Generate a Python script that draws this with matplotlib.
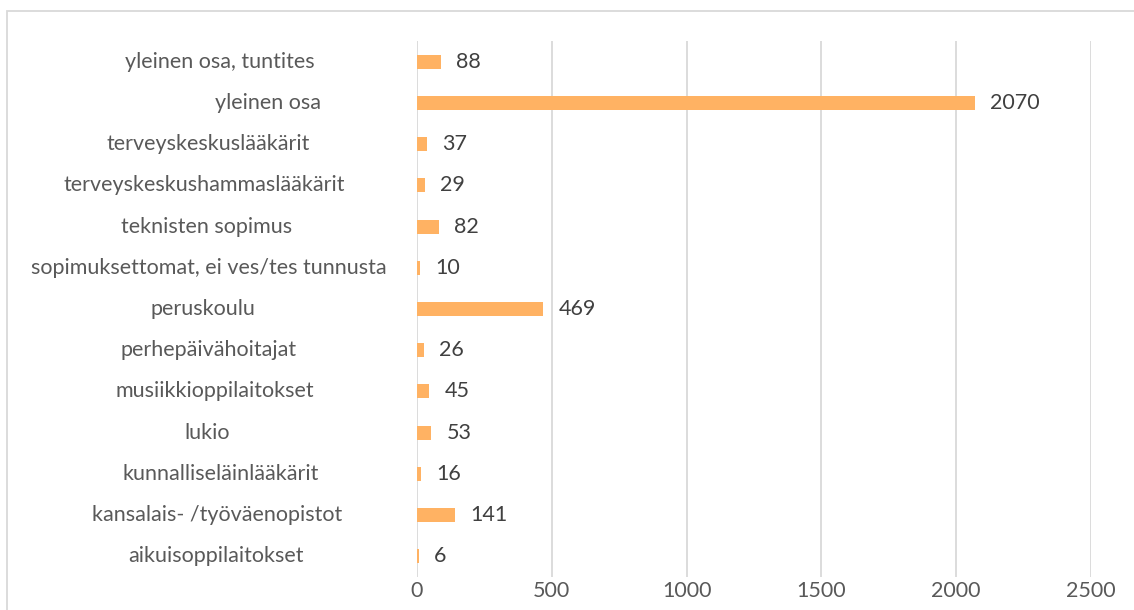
import matplotlib.pyplot as plt
import matplotlib.transforms as mtransforms
from matplotlib.patches import Rectangle

categories = [
    "yleinen osa, tuntites",
    "yleinen osa",
    "terveyskeskuslääkärit",
    "terveyskeskushammaslääkärit",
    "teknisten sopimus",
    "sopimuksettomat, ei ves/tes tunnusta",
    "peruskoulu",
    "perhepäivähoitajat",
    "musiikkioppilaitokset",
    "lukio",
    "kunnalliseläinlääkärit",
    "kansalais- /työväenopistot",
    "aikuisoppilaitokset",
]
values = [88, 2070, 37, 29, 82, 10, 469, 26, 45, 53, 16, 141, 6]
x_ticks = [0, 500, 1000, 1500, 2000, 2500]

# label centre x in pixels (Excel centres each label slightly differently)
label_centers = [220, 268, 208, 204, 207, 209, 203, 209, 215, 207, 221, 217, 216]

W, H = 1134, 610
BAR_COLOR = "#FFB263"
TEXT_COLOR = "#595959"
GRID_COLOR = "#D9D9D9"
FS = 15.5

plt.rcParams["font.family"] = ["Lato", "DejaVu Sans"]

fig = plt.figure(figsize=(W / 100, H / 100), dpi=100)
ax = fig.add_axes([417 / W, 33 / H, 674 / W, 536 / H])

y = list(range(len(categories)))
ax.barh(y, values, height=0.34, color=BAR_COLOR, zorder=3)

ax.set_xlim(0, 2500)
ax.set_ylim(len(categories) - 0.5, -0.5)
ax.set_xticks(x_ticks)
ax.set_xticklabels([str(t) for t in x_ticks], fontsize=FS, color=TEXT_COLOR)
ax.tick_params(axis="x", length=0, pad=3)
ax.set_yticks([])
ax.grid(axis="x", color=GRID_COLOR, linewidth=1.3, zorder=0)
for side in ["top", "right", "bottom", "left"]:
    ax.spines[side].set_visible(False)

for yi, v in zip(y, values):
    ax.annotate(str(v), xy=(v, yi), xytext=(11, 0), textcoords="offset points",
                ha="left", va="center", fontsize=FS, color="#404040")

trans = mtransforms.blended_transform_factory(fig.transFigure, ax.transData)
for yi, name, cx in zip(y, categories, label_centers):
    ax.text(cx / W, yi, name, transform=trans, ha="center", va="center",
            fontsize=FS, color=TEXT_COLOR)

fig.patches.append(Rectangle((7 / W, -0.1), 1.2, (H - 11) / H + 0.1,
                             transform=fig.transFigure, fill=False,
                             edgecolor=GRID_COLOR, linewidth=1.3))

fig.savefig("out.png", dpi=100)
